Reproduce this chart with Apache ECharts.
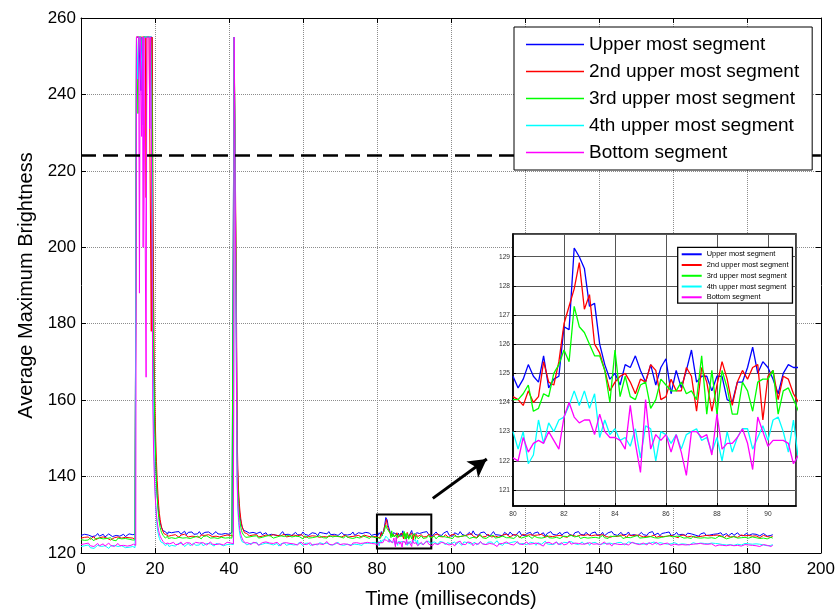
<!DOCTYPE html>
<html><head><meta charset="utf-8">
<script src="https://cdn.jsdelivr.net/npm/echarts@6/dist/echarts.min.js"></script>
<style>html,body{margin:0;padding:0;background:#fff}#c{width:838px;height:614px}</style>
</head><body><div id="c"></div>
<script>
// ---- sampling grid (ms) of each recorded segment ----
const segmentStarts = [0, 14.2, 24.5, 40.6, 45.5, 80.0, 91.5];
const segmentSteps  = [0.5, 0.2, 0.5, 0.2, 0.5, 0.2, 0.5];

const seriesNames = ['Upper most segment', '2nd upper most segment', '3rd upper most segment', '4th upper most segment', 'Bottom segment'];
const seriesColors = ['#0000ff', '#ff0000', '#00ff00', '#00ffff', '#ff00ff'];

const xTicksMain = [0, 20, 40, 60, 80, 100, 120, 140, 160, 180, 200];
const yTicksMain = [120, 140, 160, 180, 200, 220, 240, 260];
const thresholdLevel = 224;
const zoomBox = [[80, 121.2], [94.7, 130.05]];
const arrowFrom = [95.1, 134.3];
const arrowTo = [109.7, 144.6];
const insetX = [80, 91.1];
const insetY = [120.45, 129.78];

const upperMost = [
 [124.6,124.2,124.9,124.4,124.7,125.0,124.3,124.8,124.5,125.1,124.4,124.6,124.9,124.2,124.7,125.0,124.5,124.3,124.8,124.6,125.1,124.4,124.7,124.9,124.3,124.6,125.0,124.5,124.8],
 [124.7,124.4,124.9,124.6,255,255,255,255,255,255,241,255,240,255,255,255,255,255,255,255,255,255,255,255,255,255,205,172,160,151,144,139,135,132.5,130.5,129,128,127.2,126.6,126.1,125.8,125.5,125.3,125.6,125.1,125.4,124.9,125.5,125.0,125.3],
 [125.3,124.8,125.5,125.0,125.6,124.9,125.2,125.7,124.8,125.4,125.1,125.5,124.9,125.3,125.0,125.6,124.8,125.2,125.4,124.9,125.5,125.1,124.8,125.3,125.6,125.0,125.2,124.9,125.4,125.1,125.5,124.9,125.2],
 [125.1,125.4,124.9,125.2,255,255,255,180,148,139,134.5,131.5,129.5,128.2,127.3,126.7,126.2,125.9,125.6,125.4,125.7,125.2,125.5],
 [125.2,124.7,125.4,124.9,125.1,124.6,125.5,124.8,125.0,125.3,124.6,125.1,124.9,125.4,124.7,125.2,124.5,125.0,125.6,124.8,125.2,124.9,125.3,124.6,125.0,125.4,124.8,125.1,124.7,125.5,124.9,125.2,124.6,125.0,125.3,124.8,125.1,124.5,125.4,124.9,125.2,124.7,125.0,125.6,124.8,125.1,124.9,125.3,124.6,125.0,125.4,124.8,125.2,124.7,125.1,124.9,125.5,124.6,125.0,125.3,124.8,125.1,124.7,125.4,124.9,125.2,124.6,125.0,124.9],
 [124.9,124.5,124.8,125.3,124.9,124.7,125.6,124.5,124.8,124.9,126.6,126.5,129.3,129.0,128.6,127.3,127.4,126.0,125.3,124.8,125.0,124.6,125.3,125.2,125.6,125.1,124.7,125.3,124.6,125.2,125.5,124.3,125.1,124.5,125.1,125.8,124.7,124.9,124.9,124.4,124.9,124.9,124.1,124.0,124.7,124.7,125.2,125.9,125.0,125.4,125.2,124.8,124.3,125.0,125.3,125.2,125.2],
 [125.1,124.7,125.4,124.9,125.6,124.8,125.2,124.5,125.0,125.5,124.8,125.3,
  124.6,125.2,124.9,125.7,124.7,125.1,124.4,125.3,125.0,124.8,125.6,124.9,
  125.2,124.5,125.0,125.4,124.7,125.8,124.9,125.1,124.6,125.3,124.8,125.5,
  124.9,125.2,124.4,125.0,125.6,124.8,125.3,124.7,125.1,124.5,125.4,125.0,
  124.7,125.5,124.9,125.2,124.6,125.0,125.7,124.8,125.3,124.5,125.1,124.9,
  125.4,124.6,125.2,124.9,125.5,124.7,125.0,125.3,124.4,125.1,124.8,125.6,
  124.9,125.3,124.7,125.0,125.4,124.6,125.2,124.8,125.5,124.9,125.1,124.5,
  125.3,124.8,125.6,124.9,125.0,124.7,125.4,125.1,124.6,125.2,124.9,125.5,
  124.7,125.1,124.8,125.4,124.5,125.0,125.3,124.8,125.6,124.9,125.2,124.6,
  125.0,125.4,124.7,125.2,124.9,125.5,124.6,125.1,124.8,125.3,124.5,125.0,
  125.4,124.8,125.1,124.6,125.3,124.9,125.6,124.7,125.0,125.2,124.5,125.1,
  124.8,125.3,124.9,125.5,124.6,125.0,124.8,125.4,124.7,125.2,124.9,125.1,
  124.6,125.2,124.8,125.0,125.5,124.7,125.1,124.4,125.0,124.8,125.3,124.6,
  125.1,124.7,125.2,124.9,124.5,125.0,124.8,125.3,124.6,124.9,125.1,124.5,
  124.8,125.2,124.6,124.9,125.3,124.7,125.0,124.5,124.9,125.2,124.6,124.8,
  125.0,124.6,124.9,125.2,124.5,124.8,125.1,124.7,124.4,124.9,124.6,124.8]
];

const secondUpper = [
 [123.9,123.5,124.1,123.7,124.2,123.6,123.9,124.3,123.5,123.8,124.0,123.6,124.2,123.7,123.9,124.1,123.4,123.8,124.0,123.6,124.2,123.7,123.9,123.5,124.1,123.8,124.0,123.6,123.9],
 [123.8,124.1,123.6,123.9,255,255,255,255,255,255,255,255,255,255,255,255,255,213,255,255,255,255,255,255,178,255,225,190,170,158,150,144,139,135.5,132.5,130.3,128.8,127.6,126.7,126.0,125.5,125.1,124.9,124.6,124.8,124.3,124.7,124.4,124.6,124.2],
 [124.6,124.2,124.8,124.4,124.1,124.7,124.3,124.9,124.5,124.2,124.6,124.4,124.8,124.3,124.5,124.1,124.7,124.4,124.6,124.2,124.8,124.5,124.3,124.7,124.4,124.9,124.2,124.6,124.5,124.3,124.7,124.4,124.6],
 [124.5,124.2,124.7,124.4,255,255,255,190,152,142,136.5,133,130.7,129,127.8,126.9,126.2,125.7,125.3,125.0,124.8,125.1,124.6],
 [124.5,124.1,124.7,124.3,124.8,124.2,124.6,124.4,124.0,124.7,124.3,124.5,124.2,124.8,124.4,124.6,124.1,124.5,124.3,124.9,124.2,124.6,124.4,124.0,124.7,124.3,124.5,124.2,124.8,124.4,124.1,124.6,124.3,124.7,124.5,124.2,124.4,124.8,124.1,124.5,124.3,124.7,124.2,124.6,124.4,124.0,124.5,124.8,124.3,124.6,124.2,124.4,124.7,124.1,124.5,124.3,124.8,124.4,124.2,124.6,124.5,124.1,124.7,124.3,124.4,124.6,124.2,124.5,124.3],
 [124.2,124.1,123.9,124.4,124.0,124.2,125.4,124.7,124.6,125.4,126.7,127.3,127.9,128.8,127.2,127.7,126.0,125.7,125.1,124.4,124.7,124.9,125.0,124.7,124.3,124.8,124.7,125.3,125.1,124.1,124.2,124.8,124.4,124.4,125.2,124.9,123.7,125.2,124.7,123.7,124.6,125.4,124.8,123.9,124.7,125.1,124.8,125.2,125.3,123.4,124.9,125.1,124.1,124.9,124.8,124.3,124.0],
 [124.4,124.8,124.2,124.6,124.3,124.9,124.5,124.1,124.7,124.4,125.0,124.3,
  124.6,124.2,124.8,124.5,124.0,124.7,124.4,124.9,124.2,124.6,124.3,124.8,
  124.5,124.1,124.7,124.3,125.1,124.4,124.6,124.0,124.8,124.5,124.2,124.7,
  124.3,124.9,124.5,124.2,124.6,124.4,124.8,124.1,124.5,124.7,124.3,124.9,
  124.6,124.2,124.4,124.8,124.3,124.7,124.0,124.5,124.9,124.4,124.6,124.2,
  124.8,124.4,124.6,124.1,124.7,124.3,124.9,124.5,124.2,124.6,124.4,124.8,
  124.3,124.7,124.5,124.0,124.6,124.8,124.3,124.5,124.1,124.7,124.4,124.6,
  124.9,124.3,124.5,124.7,124.2,124.6,124.4,124.8,124.3,124.5,124.1,124.7,
  124.4,124.6,124.2,124.8,124.5,124.3,124.7,124.1,124.6,124.4,124.9,124.3,
  124.5,124.7,124.3,124.6,124.0,124.8,124.4,124.5,124.2,124.7,124.3,124.6,
  124.8,124.2,124.6,124.4,124.9,124.3,124.5,124.7,124.1,124.6,124.4,124.5,
  124.3,124.7,124.4,124.2,124.6,124.8,124.3,124.5,124.0,124.6,124.4,124.7,
  124.5,124.2,124.6,124.4,124.8,124.1,124.5,124.3,124.7,124.4,124.2,124.6,
  124.3,124.5,124.1,124.6,124.4,124.7,124.2,124.5,124.3,124.0,124.6,124.4,
  124.2,124.6,124.3,124.5,124.1,124.4,124.7,124.2,124.5,124.3,124.6,124.1,
  124.4,124.2,124.5,124.3,124.0,124.4,124.6,124.2,124.3,124.5,124.1,124.4]
];

const thirdUpper = [
 [123.5,123.9,123.3,123.7,123.4,124.0,123.6,123.2,123.8,123.5,123.9,123.4,123.7,123.3,123.8,123.6,124.0,123.4,123.6,123.2,123.9,123.5,123.7,123.3,123.8,123.5,123.6,123.9,123.4],
 [123.6,123.9,123.4,123.7,255,255,235,255,255,255,255,255,255,250,255,255,255,255,255,255,255,255,255,255,255,240,192,174,161,151,144,138.5,134.5,131.5,129.3,127.8,126.7,125.9,125.3,124.9,124.6,124.2,124.5,123.9,124.3,124.0,124.4,123.8,124.2,124.0],
 [124.0,124.4,123.8,124.3,124.1,124.6,123.9,124.2,124.0,124.5,123.8,124.3,124.1,123.9,124.4,124.2,123.7,124.3,124.0,124.5,124.1,123.9,124.4,124.0,124.2,123.8,124.3,124.1,124.5,123.9,124.2,124.0,124.3],
 [124.2,123.9,124.4,124.0,255,255,255,182,146,137.5,133,130,128.1,126.8,125.9,125.3,124.9,124.6,124.3,124.5,124.1,124.4,124.0],
 [124.2,123.8,124.4,124.0,124.5,123.9,124.3,124.1,123.7,124.4,124.0,124.6,124.1,123.9,124.3,124.2,123.8,124.5,124.0,124.3,123.9,124.6,124.1,124.2,123.8,124.4,124.0,124.3,124.1,123.7,124.5,124.2,123.9,124.3,124.0,124.4,124.2,123.8,124.5,124.1,124.0,124.3,123.9,124.6,124.1,124.2,123.8,124.4,124.0,124.3,124.1,123.9,124.5,124.2,124.0,124.4,123.8,124.3,124.1,124.2,123.9,124.5,124.0,124.2,124.3,123.8,124.4,124.1,124.0],
 [124.1,124.1,124.3,124.6,123.7,123.8,124.3,124.2,125.0,125.3,125.8,125.4,127.3,126.6,126.4,126.0,125.6,125.6,125.1,124.0,125.8,124.2,124.9,124.2,124.1,124.6,124.7,123.8,124.1,124.8,124.6,124.4,124.4,124.7,124.3,124.4,124.1,125.6,123.6,125.1,123.6,125.1,124.5,123.6,123.6,124.7,124.4,123.7,124.7,124.8,124.8,125.1,123.6,124.4,124.5,124.1,123.7],
 [124.1,124.5,123.8,124.3,124.0,124.6,123.9,124.2,124.4,123.7,124.3,124.0,
  124.4,123.9,124.2,124.7,124.0,124.3,123.8,124.5,124.1,124.2,123.7,124.4,
  124.0,124.6,124.2,123.8,124.3,124.1,124.5,123.9,124.2,124.8,124.0,124.3,
  123.8,124.2,124.4,124.0,124.6,123.9,124.3,124.1,123.7,124.4,124.2,124.0,
  124.5,124.0,124.2,123.8,124.3,124.6,124.1,123.9,124.4,124.2,124.0,124.5,
  124.1,123.8,124.4,124.2,124.0,124.5,123.9,124.3,124.1,124.7,124.0,124.2,
  123.9,124.3,124.1,124.5,123.8,124.2,124.4,124.0,124.3,123.9,124.6,124.1,
  124.2,124.0,124.5,123.8,124.3,124.1,124.4,123.9,124.2,124.0,124.5,124.1,
  124.3,123.9,124.1,124.6,124.0,124.2,123.8,124.4,124.1,124.3,124.0,124.5,
  124.0,124.4,123.8,124.2,124.1,124.5,124.0,123.9,124.3,124.2,124.6,123.9,
  124.2,124.0,124.4,124.1,123.8,124.3,124.5,124.0,124.2,123.9,124.4,124.1,
  124.0,124.3,123.9,124.5,124.1,124.2,123.8,124.4,124.0,124.3,124.1,123.9,
  124.3,124.0,124.2,123.8,124.4,124.1,124.0,124.3,123.9,124.2,124.0,124.4,
  123.9,124.2,124.0,124.3,123.8,124.1,124.4,123.9,124.2,124.0,123.7,124.2,
  124.0,123.8,124.3,124.1,123.9,124.2,124.0,123.7,124.1,124.3,123.9,124.0,
  124.2,123.9,124.0,124.3,123.8,124.1,123.9,124.2,123.7,124.0,124.1,123.9]
];

const fourthUpper = [
 [121.7,121.3,121.9,121.5,122.1,121.4,121.8,121.2,121.6,122.0,121.5,121.7,121.3,121.9,121.6,121.2,121.8,121.4,122.0,121.5,121.7,121.3,121.9,121.6,121.4,121.8,121.5,121.2,121.7],
 [121.6,121.9,121.4,121.8,255,255,244,255,255,255,255,255,255,232,255,255,255,255,255,255,255,255,255,255,255,215,172,154,144,137.5,132.5,129,126.8,125.4,124.5,123.8,123.3,122.9,122.6,122.4,122.6,122.1,122.5,121.9,122.3,121.8,122.4,122.0,121.7,122.2],
 [122.0,122.5,121.8,122.3,122.6,122.1,122.4,121.7,122.2,122.5,121.9,122.3,122.6,122.0,122.4,122.1,122.7,121.9,122.3,122.5,122.0,122.4,122.2,121.8,122.5,122.1,122.3,122.6,121.9,122.4,122.2,122.0,122.3],
 [122.4,122.0,122.6,122.2,255,255,255,165,138,131.5,128,125.9,124.6,123.8,123.3,122.9,122.6,122.4,122.7,122.2,122.5,122.1,122.4],
 [122.4,122.0,122.6,122.2,122.8,122.1,122.5,122.3,121.9,122.6,122.2,122.4,122.7,122.1,122.3,122.5,121.8,122.4,122.2,122.6,122.0,122.5,122.3,122.7,122.1,122.4,122.2,122.8,122.3,121.9,122.5,122.2,122.6,122.0,122.4,122.3,122.5,122.1,122.7,122.2,122.4,121.9,122.6,122.3,122.1,122.5,122.2,122.4,122.8,122.2,122.5,122.0,122.4,122.3,122.6,122.1,122.5,122.3,122.7,122.2,122.4,122.0,122.6,122.3,122.5,122.2,122.7,122.4,122.8],
 [123.0,122.4,123.0,121.9,122.2,123.4,122.6,123.3,123.0,123.4,123.5,123.9,124.4,123.9,124.4,123.8,124.3,122.8,123.4,122.9,123.1,122.7,122.8,122.5,123.1,122.1,123.2,123.1,122.0,123.0,122.9,122.6,122.9,122.4,122.9,123.0,123.1,122.7,122.8,122.3,122.8,122.0,123.0,122.3,122.8,123.1,123.1,122.4,122.8,123.2,122.7,123.4,123.5,123.0,122.3,123.4,122.0],
 [122.6,123.0,122.2,122.8,122.4,123.1,122.5,122.0,122.9,122.6,122.3,123.0,
  122.5,122.8,122.1,122.7,123.2,122.4,122.6,122.9,122.2,122.8,122.5,122.0,
  122.9,122.4,122.7,123.1,122.3,122.6,122.8,122.1,122.5,123.0,122.4,122.7,
  122.2,122.8,122.5,122.9,122.3,122.6,123.2,122.4,122.7,122.0,122.6,122.9,
  122.5,122.1,122.8,122.4,123.0,122.6,122.3,122.7,122.5,122.9,122.2,122.6,
  122.8,122.4,122.6,122.0,122.7,122.9,122.3,122.5,123.1,122.4,122.6,122.2,
  122.7,122.3,122.9,122.5,122.1,122.6,122.8,122.4,122.7,122.2,123.0,122.5,
  122.4,122.8,122.2,122.6,122.9,122.3,122.5,122.7,122.0,122.6,122.4,122.8,
  122.6,122.2,122.7,122.4,122.9,122.5,122.1,122.6,122.8,122.3,122.5,122.7,
  122.3,122.8,122.5,122.1,122.6,122.9,122.4,122.7,122.2,122.5,122.8,122.4,
  122.6,122.3,122.8,122.5,122.0,122.6,122.4,122.9,122.3,122.5,122.7,122.2,
  122.5,122.8,122.3,122.6,122.4,122.1,122.7,122.5,122.2,122.6,122.4,122.8,
  122.3,122.6,122.1,122.5,122.7,122.3,122.4,122.0,122.6,122.3,122.5,122.2,
  122.4,122.1,122.6,122.3,122.5,122.0,122.4,122.6,122.2,122.4,122.1,122.5,
  122.2,122.5,122.0,122.4,122.3,122.6,122.1,122.3,122.5,122.0,122.4,122.2,
  122.3,122.1,122.4,122.0,122.3,122.5,122.1,122.2,121.9,122.3,122.0,122.2]
];

const bottomSeg = [
 [122.2,121.8,122.4,122.0,122.6,121.9,122.3,121.7,122.1,122.5,121.9,122.2,122.4,121.8,122.1,122.6,122.0,122.3,121.7,122.2,122.5,121.9,122.3,122.0,122.4,121.8,122.2,122.0,122.3],
 [122.3,121.9,122.4,122.0,255,255,255,255,188,255,255,229,255,200,255,255,255,166,255,255,255,255,231,255,255,205,160,148,141,136,132.5,130,128.2,126.8,125.8,125.0,124.4,124.0,123.6,123.3,123.0,122.7,122.9,122.4,122.8,122.3,122.6,122.2,122.7,122.4],
 [122.4,122.8,122.2,122.6,122.3,122.9,122.1,122.5,122.7,122.3,122.6,122.0,122.5,122.8,122.3,122.6,122.2,122.7,122.4,122.1,122.6,122.9,122.3,122.5,122.2,122.7,122.4,122.6,122.1,122.5,122.8,122.3,122.6],
 [122.6,122.3,122.8,122.4,255,255,255,170,140,133,129.3,127.2,125.8,124.9,124.2,123.7,123.3,123.0,122.8,122.6,122.9,122.4,122.7],
 [122.5,122.2,122.8,122.3,122.6,122.0,122.5,122.7,122.2,122.9,122.4,122.6,122.1,122.5,122.3,122.8,122.4,121.9,122.6,122.3,122.7,122.2,122.5,122.8,122.4,122.6,122.1,122.5,122.9,122.3,122.6,122.2,122.4,122.7,122.0,122.5,122.3,122.8,122.4,122.6,122.2,122.5,123.0,122.3,122.6,122.1,122.4,122.7,122.5,122.2,122.6,122.4,122.8,122.3,122.5,121.9,122.6,122.4,122.7,122.3,122.5,122.2,122.6,122.4,122.8,122.3,122.5,122.7,122.4],
 [122.1,122.0,122.8,122.3,122.6,122.7,122.6,123.0,122.7,122.4,123.5,124.0,123.5,123.3,123.4,123.4,122.9,123.6,123.0,122.8,122.8,122.7,122.4,123.9,122.6,121.6,124.1,122.4,122.9,122.7,122.9,122.3,122.9,122.3,121.5,123.0,123.0,122.8,122.9,122.2,123.6,122.4,122.6,122.6,122.8,123.1,122.6,121.7,123.5,123.0,122.5,122.7,122.7,122.7,122.6,121.9,122.2],
 [122.4,122.8,122.1,122.6,123.2,122.3,122.7,121.9,122.5,122.9,122.2,122.6,
  122.8,122.3,122.5,123.0,122.1,122.6,122.4,121.8,122.7,122.5,123.1,122.3,
  122.6,122.2,122.9,122.4,122.7,121.9,122.5,122.8,122.3,123.0,122.4,122.6,
  122.2,122.7,122.5,122.9,122.3,122.6,121.7,122.4,122.8,122.5,122.2,122.9,
  122.5,122.3,122.8,122.1,122.6,123.0,122.4,122.7,122.2,122.5,122.9,122.3,
  122.7,122.4,122.2,122.6,122.9,122.3,122.5,121.8,122.6,122.4,122.8,122.5,
  122.3,122.6,122.9,122.2,122.5,122.7,122.1,122.6,122.4,123.1,122.3,122.5,
  122.6,122.2,122.5,122.8,122.3,122.6,122.4,122.0,122.7,122.5,122.3,122.8,
  122.4,122.7,122.2,122.5,122.9,122.3,122.6,122.4,121.8,122.5,122.7,122.3,
  122.5,122.2,122.7,122.4,122.6,122.1,122.5,122.8,122.3,122.4,122.6,122.2,
  122.3,122.6,122.4,122.1,122.7,122.4,122.2,122.5,122.8,122.3,122.1,122.5,
  122.4,122.2,122.6,122.3,122.0,122.5,122.3,122.6,122.1,122.4,122.2,122.5,
  122.1,122.4,122.2,122.5,122.3,121.9,122.4,122.2,122.5,122.0,122.3,122.1,
  122.3,122.0,122.4,122.2,121.8,122.3,122.1,122.4,122.0,122.2,121.9,122.3,
  122.1,122.3,121.9,122.2,122.0,122.3,121.8,122.1,122.2,121.9,122.1,121.8,
  122.0,122.2,121.9,122.1,121.7,122.0,122.2,121.8,122.0,121.9,121.7,122.0]
];

const allSeries = [upperMost, secondUpper, thirdUpper, fourthUpper, bottomSeg];
const INSET_SEG = 5;

function toPairs(segs, only) {
  const out = [];
  segs.forEach((vals, k) => {
    if (only !== undefined && k !== only) return;
    vals.forEach((v, i) => out.push([+(segmentStarts[k] + i * segmentSteps[k]).toFixed(2), v]));
  });
  return out;
}

const FONT = 'Liberation Sans, Arial, Helvetica, sans-serif';
const chart = echarts.init(document.getElementById('c'), null, {renderer: 'canvas'});

const mainSeries = allSeries.map((segs, i) => ({
  type: 'line', name: seriesNames[i], xAxisIndex: 0, yAxisIndex: 0,
  data: toPairs(segs), symbol: 'none', showSymbol: false, sampling: null,
  color: seriesColors[i], lineStyle: {width: 1, color: seriesColors[i]}, z: 2
}));
const insetSeries = allSeries.map((segs, i) => ({
  type: 'line', name: seriesNames[i], xAxisIndex: 2, yAxisIndex: 2,
  data: toPairs(segs, INSET_SEG), symbol: 'none', showSymbol: false,
  color: seriesColors[i], lineStyle: {width: 1.3, color: seriesColors[i]}, z: 7
}));

const annotation = {
  type: 'line', name: 'annot', xAxisIndex: 0, yAxisIndex: 0, data: [], z: 3, silent: true,
  markLine: {
    silent: true, symbol: 'none', label: {show: false}, animation: false,
    lineStyle: {color: '#000', width: 2.5, type: [15, 7]},
    data: [{yAxis: thresholdLevel}]
  },
  markArea: {
    silent: true, label: {show: false},
    itemStyle: {color: 'rgba(0,0,0,0)', borderColor: '#000', borderWidth: 2},
    data: [[{coord: zoomBox[0]}, {coord: zoomBox[1]}]]
  }
};
const arrow = {
  type: 'line', name: 'arrow', xAxisIndex: 0, yAxisIndex: 0, data: [], z: 3, silent: true,
  markLine: {
    silent: true, symbol: ['none', 'arrow'], symbolSize: [15, 18], label: {show: false}, animation: false,
    lineStyle: {color: '#000', width: 3, type: 'solid'},
    data: [[{coord: arrowFrom}, {coord: arrowTo}]]
  }
};

const option = {
  animation: false,
  backgroundColor: '#fff',
  grid: [
    {left: 81, top: 18, width: 740, height: 539, show: false},
    {left: 513, top: 234, width: 283, height: 272, show: true, backgroundColor: '#fff', borderColor: '#000', borderWidth: 1.5, z: 5}
  ],
  xAxis: [
    {gridIndex: 0, type: 'value', min: xTicksMain[0], max: xTicksMain[xTicksMain.length - 1], interval: 20,
     axisLine: {onZero: false, lineStyle: {color: '#000', width: 1}},
     axisTick: {inside: true, length: 5, lineStyle: {color: '#000'}},
     axisLabel: {fontSize: 17, color: '#000', margin: 8, fontFamily: FONT},
     splitLine: {show: true, lineStyle: {type: 'dotted', color: '#8c8c8c', width: 1}},
     name: 'Time (milliseconds)', nameLocation: 'middle', nameGap: 36,
     nameTextStyle: {fontSize: 20, color: '#000', fontFamily: FONT}},
    {gridIndex: 0, type: 'value', position: 'top', min: 0, max: 200, interval: 20,
     axisLine: {onZero: false, lineStyle: {color: '#000', width: 1}},
     axisTick: {inside: true, length: 5, lineStyle: {color: '#000'}},
     axisLabel: {show: false}, splitLine: {show: false}},
    {gridIndex: 1, type: 'value', min: insetX[0], max: insetX[1], interval: 2, z: 6,
     axisLine: {onZero: false, lineStyle: {color: '#000', width: 1.5}},
     axisTick: {inside: true, length: 3, lineStyle: {color: '#000'}},
     axisLabel: {fontSize: 6.6, color: '#333', margin: 5, fontFamily: FONT, showMaxLabel: false},
     splitLine: {show: true, lineStyle: {type: 'solid', color: '#555', width: 1}}}
  ],
  yAxis: [
    {gridIndex: 0, type: 'value', min: yTicksMain[0], max: yTicksMain[yTicksMain.length - 1], interval: 20,
     axisLine: {onZero: false, lineStyle: {color: '#000', width: 1}},
     axisTick: {inside: true, length: 5, lineStyle: {color: '#000'}},
     axisLabel: {fontSize: 17, color: '#000', margin: 5, fontFamily: FONT},
     splitLine: {show: true, lineStyle: {type: 'dotted', color: '#8c8c8c', width: 1}},
     name: 'Average Maximum Brightness', nameLocation: 'middle', nameGap: 45,
     nameTextStyle: {fontSize: 20, color: '#000', fontFamily: FONT}},
    {gridIndex: 0, type: 'value', position: 'right', min: 120, max: 260, interval: 20,
     axisLine: {onZero: false, lineStyle: {color: '#000', width: 1}},
     axisTick: {inside: true, length: 5, lineStyle: {color: '#000'}},
     axisLabel: {show: false}, splitLine: {show: false}},
    {gridIndex: 1, type: 'value', min: insetY[0], max: insetY[1], splitNumber: 9, z: 6,
     axisLine: {onZero: false, lineStyle: {color: '#000', width: 1.5}},
     axisTick: {inside: true, length: 3, lineStyle: {color: '#000'}},
     axisLabel: {fontSize: 6.6, color: '#333', margin: 3, fontFamily: FONT, showMinLabel: false, showMaxLabel: false},
     splitLine: {show: true, lineStyle: {type: 'solid', color: '#555', width: 1}}}
  ],
  legend: [
    {data: seriesNames, orient: 'vertical', left: 514, top: 27, padding: [4, 13, 4, 12],
     itemGap: 0, itemWidth: 58, itemHeight: 1.6, icon: 'rect', selectedMode: false,
     backgroundColor: '#fff', borderColor: '#000', borderWidth: 1, borderRadius: 0, z: 10,
     textStyle: {fontSize: 19, lineHeight: 27, color: '#000', fontFamily: FONT}},
    {data: seriesNames, orient: 'vertical', left: 677.7, top: 247.3, padding: [1.6, 4, 0.5, 4],
     itemGap: 0, itemWidth: 20, itemHeight: 2, icon: 'rect', selectedMode: false,
     backgroundColor: '#fff', borderColor: '#000', borderWidth: 1.3, borderRadius: 0, z: 10,
     textStyle: {fontSize: 7.4, lineHeight: 10.75, color: '#000', fontFamily: FONT}}
  ],
  series: [...mainSeries, annotation, arrow, ...insetSeries]
};
chart.setOption(option);
</script></body></html>
